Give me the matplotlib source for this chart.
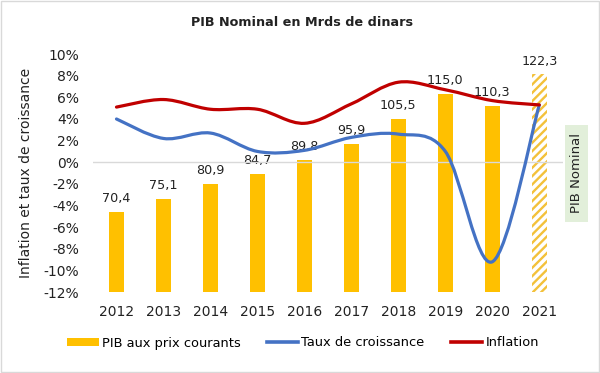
import numpy as np
import matplotlib
matplotlib.use("Agg")
import matplotlib.pyplot as plt
from matplotlib.patches import Rectangle, PathPatch
from matplotlib.path import Path
from matplotlib.lines import Line2D

years = ["2012", "2013", "2014", "2015", "2016", "2017", "2018", "2019", "2020", "2021"]
pib = [70.4, 75.1, 80.9, 84.7, 89.8, 95.9, 105.5, 115.0, 110.3, 122.3]
pib_labels = ["70,4", "75,1", "80,9", "84,7", "89,8", "95,9", "105,5", "115,0", "110,3", "122,3"]
croissance = [4.0, 2.2, 2.7, 1.0, 1.1, 2.3, 2.6, 1.0, -9.2, 5.3]
inflation = [5.1, 5.8, 4.9, 4.9, 3.6, 5.4, 7.4, 6.7, 5.7, 5.3]
yticks = [-12, -10, -8, -6, -4, -2, 0, 2, 4, 6, 8, 10]

plt.rcParams['font.family'] = ["DejaVu Sans"]
plt.rcParams['hatch.linewidth'] = 1.7

fig = plt.figure(figsize=(6.0, 3.73), dpi=100)
ax = fig.add_axes([0.155, 0.217, 0.783, 0.638])
ax2 = ax.twinx()
ax.set_zorder(ax2.get_zorder() + 1)
ax.patch.set_visible(False)

x = np.arange(len(years))

# bars on hidden secondary axis
bar_w = 0.33
ax2.bar(x[:-1], pib[:-1], width=bar_w, color="#FFC000", zorder=2)
ax2.bar(x[-1:], pib[-1:], width=bar_w, facecolor="white", edgecolor="#F3C13A",
        hatch="////", linewidth=0, zorder=2)
ax2.set_ylim(40, 130)
ax2.set_yticks([])
for i, (v, lab) in enumerate(zip(pib, pib_labels)):
    ax2.annotate(lab, (x[i], v), xytext=(0, 5), textcoords="offset points",
                 ha="center", va="bottom", fontsize=9.2, color="#222222")

def smooth(xs, ys):
    xs = np.asarray(xs, float); ys = np.asarray(ys, float)
    n = len(xs)
    verts = [(xs[0], ys[0])]
    codes = [Path.MOVETO]
    for i in range(n - 1):
        p0 = np.array([xs[max(i - 1, 0)], ys[max(i - 1, 0)]])
        p1 = np.array([xs[i], ys[i]])
        p2 = np.array([xs[i + 1], ys[i + 1]])
        p3 = np.array([xs[min(i + 2, n - 1)], ys[min(i + 2, n - 1)]])
        c1 = p1 + (p2 - p0) / 6.0
        c2 = p2 - (p3 - p1) / 6.0
        verts += [tuple(c1), tuple(c2), tuple(p2)]
        codes += [Path.CURVE4] * 3
    return Path(verts, codes)

ax.add_patch(PathPatch(smooth(x, croissance), facecolor="none", edgecolor="#4472C4",
                       lw=2.3, capstyle="round", zorder=4))
ax.add_patch(PathPatch(smooth(x, inflation), facecolor="none", edgecolor="#C00000",
                       lw=2.3, capstyle="round", zorder=5))

ax.set_xlim(-0.5, len(years) - 0.5)
ax.set_ylim(-12, 10)
ax.set_yticks(yticks)
ax.set_yticklabels([f"{t}%" for t in yticks], fontsize=10, color="#222222")
ax.set_xticks(x)
ax.set_xticklabels(years, fontsize=10, color="#222222")
ax.tick_params(axis="y", length=0, pad=10)
ax.tick_params(axis="x", length=0, pad=9)
ax.axhline(0, color="#D9D9D9", lw=1, zorder=1)
for a in (ax, ax2):
    for s in a.spines.values():
        s.set_visible(False)

ax.set_ylabel("Inflation et taux de croissance", fontsize=10, color="#222222")
ax.yaxis.set_label_coords(-0.128, 0.5)

fig.text(0.503, 0.94, "PIB Nominal en Mrds de dinars", ha="center", va="center",
         fontsize=9.2, fontweight="bold", color="#222222")

# side label box
fig.patches.append(Rectangle((565 / 600, 1 - 222 / 373), 23 / 600, 97 / 373,
                             transform=fig.transFigure, facecolor="#E2EFDA",
                             edgecolor="none", zorder=0))
fig.text(576.5 / 600, 1 - 173 / 373, "PIB Nominal", rotation=90, ha="center", va="center",
         fontsize=9.5, color="#222222")

# legend
handles = [Rectangle((0, 0), 1, 1, facecolor="#FFC000"),
           Line2D([0], [0], color="#4472C4", lw=2.6),
           Line2D([0], [0], color="#C00000", lw=2.6)]
fig.legend(handles, ["PIB aux prix courants", "Taux de croissance", "Inflation"],
           loc="center", bbox_to_anchor=(0.505, 1 - 343 / 373), ncol=3, frameon=False,
           fontsize=9.4, handlelength=2.4, handleheight=0.6, columnspacing=2.0,
           handletextpad=0.25)

fig.patches.append(Rectangle((0.002, 0.003), 0.996, 0.994, transform=fig.transFigure,
                             facecolor="none", edgecolor="#D9D9D9", lw=1))

fig.savefig("out.png", dpi=100)
